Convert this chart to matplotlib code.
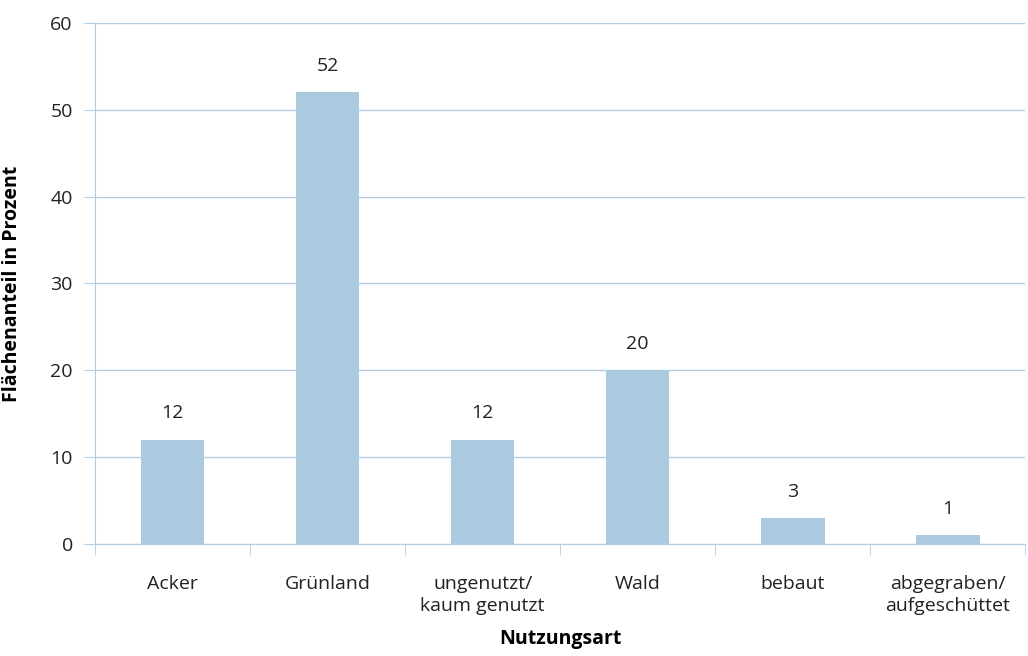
import numpy as np
import matplotlib.pyplot as plt

plt.rcParams['font.family'] = ['Open Sans', 'DejaVu Sans']

categories = ['Acker', 'Grünland', 'ungenutzt/\nkaum genutzt', 'Wald', 'bebaut', 'abgegraben/\naufgeschüttet']
values = [12, 52, 12, 20, 3, 1]

bar_col = '#abc9df'
line_col = '#b3cde3'

fig = plt.figure(figsize=(10.28, 6.56), dpi=100)
ax = fig.add_axes([0.0924, 0.1707, 0.905, 0.7943])

x = np.arange(len(categories))
ax.bar(x, values, width=0.41, color=bar_col, zorder=3)
for xi, v in zip(x, values):
    ax.text(xi, v + 2.0, str(v), ha='center', va='bottom', fontsize=14, color='#222222')

ax.set_xlim(-0.5, len(categories) - 0.5)
ax.set_ylim(0, 60)
ax.set_yticks(range(0, 61, 10))
ax.grid(axis='y', color=line_col, linewidth=1, zorder=0)

ax.set_xticks(x)
ax.set_xticklabels(categories, fontsize=14, color='#222222', linespacing=1.35)
ax.set_xticks(np.arange(-0.5, len(categories)), minor=True)
ax.tick_params(axis='x', which='major', length=0, pad=22)
ax.tick_params(axis='x', which='minor', length=8, color=line_col)
ax.tick_params(axis='y', length=8, color=line_col, labelsize=14, labelcolor='#222222', pad=8)

for s in ['top', 'right']:
    ax.spines[s].set_visible(False)
for s in ['left', 'bottom']:
    ax.spines[s].set_color(line_col)

ax.set_ylabel('Flächenanteil in Prozent', fontsize=14, fontweight='bold', labelpad=20)
ax.set_xlabel('Nutzungsart', fontsize=14, fontweight='bold', labelpad=10)

fig.savefig('out.png', dpi=100)
